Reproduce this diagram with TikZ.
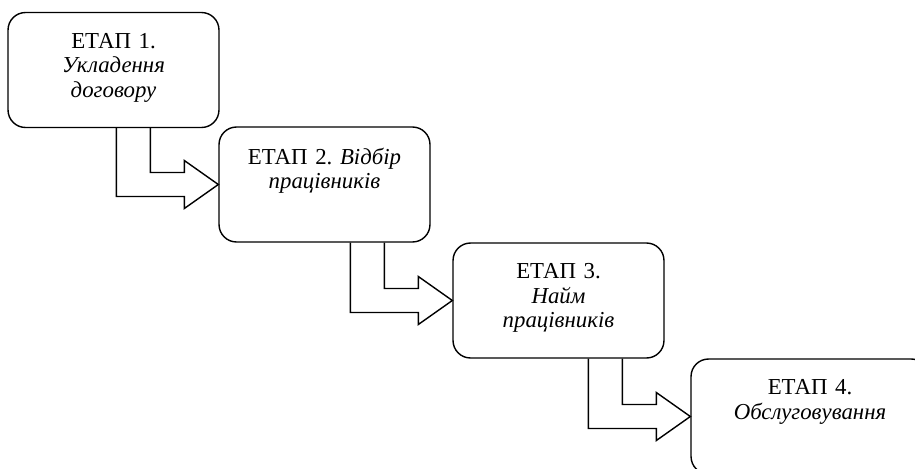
\documentclass[tikz,border=0pt]{standalone}
\usepackage{fontspec}
\setmainfont{Liberation Serif}
\usetikzlibrary{positioning,calc}
\frenchspacing

\begin{document}
\begin{tikzpicture}[x=0.02cm,y=0.02cm]
    % --- Dimensions ---
    \def\BoxW{4.22cm}      % width of a stage box
    \def\BoxH{2.3cm}       % height of a stage box
    \def\ArrOut{2.04cm}    % outer shaft line, left of the target box
    \def\ArrIn{1.36cm}     % inner shaft line, left of the target box
    \def\HeadL{0.68cm}     % length of the arrow head
    \def\ShaftH{0.24cm}    % half thickness of the horizontal shaft
    \def\HeadH{0.48cm}     % half width of the arrow head

    % --- Styles ---
    \tikzset{
        stage box/.style={
            draw=black,
            line width=0.8pt,
            rounded corners=0.35cm,
            minimum width=\BoxW,
            minimum height=\BoxH,
            inner sep=0pt
        },
        stage text/.style={
            font=\fontsize{13}{14}\selectfont,
            align=center,
            text width=4cm,
            inner sep=0pt
        },
        flow arrow/.style={
            draw=black,
            line width=0.8pt,
            line join=miter
        }
    }

    \useasboundingbox (0,0) rectangle (915,468);
    \clip (0,0) rectangle (915,468);

    % =========================================================
    % 1) STAGE BOXES
    % =========================================================
    \node[stage box] (s1) at (113.5,398) {};
    \node[stage box] (s2) at (324.5,283.5) {};
    \node[stage box] (s3) at (558.5,167.5) {};
    \node[stage box, minimum width=4.76cm] (s4) at (810,51.5) {};

    % =========================================================
    % 2) TEXT (top of each box)
    % =========================================================
    \node[stage text, below=0.42cm of s1.north] (t1)
        {ЕТАП 1.\\ \textit{Укладення}\\ \textit{договору}};
    \node[stage text, below=0.42cm of s2.north] (t2)
        {ЕТАП 2. \textit{Відбір}\\ \textit{працівників}};
    \node[stage text, below=0.42cm of s3.north] (t3)
        {ЕТАП 3.\\ \textit{Найм}\\ \textit{працівників}};
    \node[stage text, below=0.42cm of s4.north] (t4)
        {ЕТАП 4.\\ \textit{Обслуговування}};

    % =========================================================
    % 3) ELBOW BLOCK ARROWS
    % =========================================================
    \foreach \src/\dst in {s1/s2, s2/s3, s3/s4} {
        \draw[flow arrow] let \p1=(\src.south), \p2=(\dst.west) in
            (\x2-\ArrOut,\y1) -- (\x2-\ArrOut,\y2-\ShaftH)
            -- (\x2-\HeadL,\y2-\ShaftH) -- (\x2-\HeadL,\y2-\HeadH)
            -- (\p2)
            -- (\x2-\HeadL,\y2+\HeadH) -- (\x2-\HeadL,\y2+\ShaftH)
            -- (\x2-\ArrIn,\y2+\ShaftH) -- (\x2-\ArrIn,\y1);
    }

\end{tikzpicture}
\end{document}
